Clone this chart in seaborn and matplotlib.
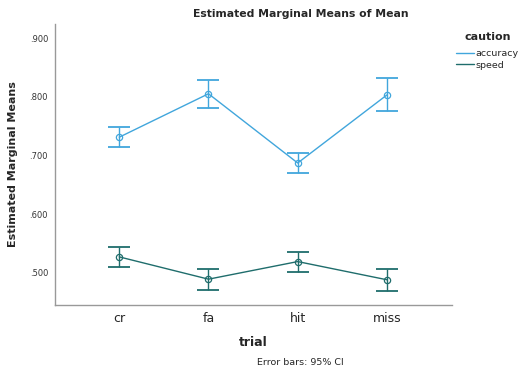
import numpy as np
import pandas as pd
import matplotlib
matplotlib.use("Agg")
import matplotlib.pyplot as plt
import seaborn as sns
from matplotlib.lines import Line2D

trials = ["cr", "fa", "hit", "miss"]
groups = ["accuracy", "speed"]
acc_mean = [0.731, 0.805, 0.687, 0.803]
acc_low = [0.714, 0.781, 0.670, 0.776]
acc_high = [0.748, 0.828, 0.704, 0.832]
spd_mean = [0.527, 0.489, 0.519, 0.488]
spd_low = [0.510, 0.471, 0.502, 0.469]
spd_high = [0.544, 0.507, 0.535, 0.507]
yticks = [0.5, 0.6, 0.7, 0.8, 0.9]
ytick_labels = [".500", ".600", ".700", ".800", ".900"]

colors = {"accuracy": "#41a6dc", "speed": "#1f6d6c"}

df = pd.DataFrame({
    "trial": trials * 2,
    "caution": ["accuracy"] * 4 + ["speed"] * 4,
    "mean": acc_mean + spd_mean,
    "low": acc_low + spd_low,
    "high": acc_high + spd_high,
})

sns.set_style("white")
plt.rcParams["font.family"] = ["DejaVu Sans"]

fig = plt.figure(figsize=(5.19, 3.74), dpi=100)
ax = fig.add_axes([0.106, 0.1845, 0.765, 0.7515])

sns.lineplot(data=df, x="trial", y="mean", hue="caution", palette=colors,
             ax=ax, legend=False, lw=1.0, marker="o", markersize=4.5,
             markerfacecolor="none", markeredgewidth=0.9, sort=False)
for line in ax.lines:
    line.set_markeredgecolor(line.get_color())
    line.set_markerfacecolor("none")

pos = {t: i for i, t in enumerate(trials)}
for g in groups:
    sub = df[df["caution"] == g]
    x = [pos[t] for t in sub["trial"]]
    ax.errorbar(x, sub["mean"], yerr=[sub["mean"] - sub["low"], sub["high"] - sub["mean"]],
                fmt="none", ecolor=colors[g], elinewidth=1.0, capsize=8, capthick=1.3)

ax.set_xlim(-0.72, 3.73)
ax.set_ylim(0.445, 0.924)
ax.set_yticks(yticks)
ax.set_yticklabels(ytick_labels, fontsize=6, color="#333333")
ax.tick_params(axis="x", labelsize=9, length=0, pad=5)
ax.tick_params(axis="y", length=0, pad=5)
for s in ["top", "right"]:
    ax.spines[s].set_visible(False)
for s in ["left", "bottom"]:
    ax.spines[s].set_color("#999999")
    ax.spines[s].set_linewidth(1.0)

ax.set_xlabel("trial", fontsize=9, fontweight="bold", labelpad=8)
ax.set_ylabel("Estimated Marginal Means", fontsize=8, fontweight="bold", labelpad=8)
fig.text(0.58, 0.962, "Estimated Marginal Means of Mean", ha="center", va="center",
         fontsize=7.8, fontweight="bold")
fig.text(0.578, 0.03, "Error bars: 95% CI", ha="center", va="center", fontsize=6.8)

handles = [Line2D([0], [0], color=colors[g], lw=1.0) for g in groups]
leg = ax.legend(handles, groups, title="caution", loc="upper left",
                bbox_to_anchor=(0.993, 0.995), frameon=False, fontsize=6.8,
                handlelength=1.9, handletextpad=0.2, labelspacing=0.3,
                borderpad=0.2, title_fontproperties={"weight": "bold", "size": 8})
leg._legend_box.sep = 5
fig.savefig("out.png", dpi=100)
